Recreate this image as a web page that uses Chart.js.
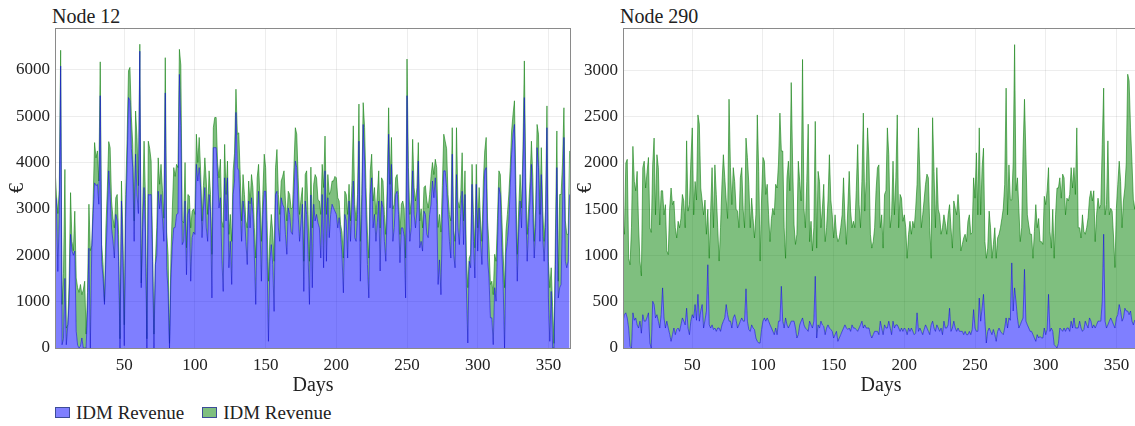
<!DOCTYPE html>
<html>
<head>
<meta charset="utf-8">
<title>IDM Revenue</title>
<script src="https://cdn.jsdelivr.net/npm/chart.js@4.4.1/dist/chart.umd.min.js"></script>
<style>
  html, body { margin: 0; padding: 0; background: #fff; overflow: hidden; }
  body { width: 1135px; height: 426px; position: relative; font-family: 'Liberation Serif', 'DejaVu Serif', 'Times New Roman', serif; color: #222; }
  canvas { position: absolute; top: 0; }
  #chart-node12 { left: 0; }
  #chart-node290 { left: 568px; }
  .panel-title { position: absolute; top: 6px; font-size: 20px; line-height: 20px; }
  .legend { position: absolute; top: 403px; left: 55px; font-size: 19px; line-height: 19px; display: flex; white-space: nowrap; }
  .legend .item { display: flex; align-items: center; margin-right: 18px; }
  .legend .swatch { width: 13px; height: 9px; border: 1px solid #3c4c98; margin-right: 6px; }
</style>
</head>
<body>
<div class="panel-title" style="left:52px">Node 12</div>
<div class="panel-title" style="left:620px">Node 290</div>
<canvas id="chart-node12" width="572" height="400"></canvas>
<canvas id="chart-node290" width="572" height="400"></canvas>
<div class="legend">
  <div class="item"><div class="swatch" style="background:#7f7fff"></div>IDM Revenue</div>
  <div class="item"><div class="swatch" style="background:#7fbf7f"></div>IDM Revenue</div>
</div>
<script>
// Node 12: daily IDM revenue (lower band) and cumulative top of the second band, €
const node12Base = [
  3300, 3200, 1650, 2800, 6080, 70, 200, 1500, 70, 470,
  1000, 2450, 2090, 2000, 2090, 360, 60, 0, 40, 216,
  0, 0, 0, 800, 2150, 0, 2160, 2900, 3560, 3500,
  3530, 3100, 5440, 1870, 1500, 940, 1940, 2800, 3820, 3310,
  2590, 2300, 1940, 2880, 2740, 1870, 0, 3170, 2000, 50,
  2800, 3900, 5400, 5330, 4300, 3890, 2300, 4180, 3310, 2900,
  6400, 1300, 2600, 3460, 2500, 0, 3310, 3300, 3310, 1870,
  0, 1800, 2000, 3380, 3000, 3310, 2800, 2300, 5500, 1730,
  1200, 0, 1510, 2200, 2590, 2600, 2880, 2900, 5900, 4800,
  2230, 2300, 3170, 1580, 2880, 3000, 1440, 2380, 2500, 2450,
  3960, 3600, 3890, 3460, 2380, 3000, 3460, 2590, 2300, 3310,
  2950, 1080, 4320, 4320, 4320, 3700, 3020, 3240, 1940, 1220,
  3670, 2740, 3670, 1730, 2300, 1370, 3310, 3600, 5080, 3890,
  3820, 3020, 2300, 3170, 2880, 2300, 1800, 3170, 2590, 3240,
  2880, 2000, 940, 2810, 3380, 2600, 1440, 2880, 3380, 3380,
  1870, 144, 1870, 2230, 1800, 790, 3310, 3380, 2590, 2300,
  3240, 3100, 3020, 2450, 2020, 3020, 2880, 2500, 2450, 3310,
  4030, 3890, 2880, 2300, 2700, 3100, 1220, 3170, 2880, 2020,
  940, 3300, 1300, 3100, 2740, 2880, 2700, 2590, 1940, 3310,
  1730, 3820, 1870, 3240, 2380, 2880, 3100, 3020, 2950, 2880,
  2590, 2810, 2450, 2000, 1190, 2880, 2740, 1940, 3170, 2300,
  3000, 3600, 2380, 2300, 2880, 4460, 1440, 2880, 4820, 4030,
  2880, 1800, 1080, 3310, 3670, 2590, 2880, 2300, 2700, 3170,
  1660, 3170, 3020, 2300, 1870, 3000, 4610, 3020, 3960, 2300,
  2600, 3310, 3380, 2880, 1840, 2590, 2590, 2400, 1080, 5440,
  3170, 2300, 2600, 3820, 2880, 2590, 2950, 4030, 2160, 2300,
  2090, 2950, 2880, 2450, 2380, 2880, 3100, 3600, 3240, 3670,
  3100, 1370, 1900, 1150, 2800, 3820, 3820, 3460, 2880, 2300,
  1940, 4180, 2020, 1730, 3740, 2590, 2230, 2900, 3380, 2230,
  3310, 1300, 108, 1870, 1730, 3530, 2300, 1510, 3530, 2090,
  3020, 2300, 1800, 3000, 3820, 3890, 1940, 1500, 650, 650,
  72, 1300, 1010, 2200, 3460, 3310, 2160, 1370, 0, 2020,
  2300, 2700, 3460, 4180, 4610, 4820, 2880, 1440, 2500, 3170,
  2590, 3890, 5400, 3020, 1870, 2600, 3170, 3960, 2880, 1940,
  2600, 4320, 3890, 2300, 3740, 2400, 1870, 2600, 4750, 1080,
  144, 1220, 0, 0, 1800, 3890, 1080, 1300, 1370, 3000,
  4540, 1870, 1730, 1870, 3310
];
const node12Top = [
  3900, 3300, 2900, 3400, 6420, 940, 1600, 3850, 430, 500,
  1400, 3350, 2300, 2100, 2950, 1510, 1300, 1200, 1370, 1150,
  1250, 1440, 300, 1200, 3100, 2100, 2200, 3200, 4430, 4100,
  4250, 3600, 6170, 2230, 1800, 1000, 2590, 3400, 4450, 4320,
  3170, 2800, 2590, 3240, 3310, 2450, 200, 3600, 2500, 500,
  3310, 4500, 5980, 6050, 5000, 4390, 2740, 5110, 4540, 3500,
  6550, 1400, 3000, 4460, 3200, 200, 4460, 4300, 4030, 2200,
  300, 1870, 2600, 4100, 3530, 3960, 3400, 2800, 6260, 2500,
  2000, 100, 2000, 3000, 3890, 3700, 3960, 3890, 6440, 6100,
  2740, 2700, 4000, 2160, 3310, 3280, 2590, 2950, 3000, 2880,
  4610, 4000, 4540, 3820, 2740, 3500, 4100, 3600, 2880, 3820,
  3310, 2020, 4750, 4970, 4970, 4000, 3670, 4070, 2740, 2600,
  4390, 3310, 4030, 2450, 2880, 2300, 3820, 4200, 5580, 4610,
  4640, 3740, 2740, 3740, 3310, 2740, 2590, 3600, 3110, 3740,
  3460, 2600, 1940, 3670, 3960, 3200, 2300, 3310, 4180, 3890,
  2740, 1440, 2380, 2880, 2500, 1870, 3890, 4280, 3310, 2880,
  3600, 3700, 3820, 3170, 2740, 3380, 3310, 3000, 3020, 3890,
  4750, 4610, 3670, 2880, 3200, 3460, 1870, 3740, 3820, 2880,
  1870, 3900, 2590, 3530, 3740, 3670, 3200, 3170, 2880, 3960,
  3460, 4570, 2880, 3740, 3310, 3380, 3600, 3600, 3700, 3670,
  3240, 3170, 2660, 2500, 1940, 3380, 3310, 2880, 3530, 2740,
  3500, 4790, 3100, 2740, 3310, 5260, 2300, 3310, 5290, 4750,
  3460, 2500, 1940, 3820, 4180, 3170, 3460, 2880, 3300, 3820,
  2590, 3670, 3600, 2880, 2450, 3500, 5180, 3530, 4540, 3000,
  3100, 3670, 3740, 3310, 2450, 3100, 3170, 3000, 1940, 6230,
  3890, 2880, 3200, 4500, 3460, 3170, 3460, 4430, 2740, 3000,
  2590, 3460, 3500, 3170, 3020, 3310, 3700, 4000, 3740, 4070,
  3890, 2600, 2880, 2500, 3500, 4610, 4460, 4300, 3310, 2880,
  2740, 4750, 2530, 2300, 4750, 3170, 3020, 3300, 4210, 2740,
  3820, 2000, 1300, 1940, 2020, 3960, 2880, 2160, 3960, 2590,
  3460, 2740, 2300, 3600, 4250, 4540, 2740, 2200, 1370, 1440,
  1150, 2020, 1870, 2800, 3820, 3740, 2880, 2020, 1300, 2520,
  2880, 3300, 3890, 4680, 5040, 5330, 3530, 2020, 3000, 3740,
  3020, 4250, 6190, 3670, 2450, 3000, 3600, 4460, 3670, 2300,
  3000, 4820, 4610, 2880, 4320, 3000, 2300, 3000, 5220, 1870,
  1300, 1730, 900, 100, 2500, 4680, 1440, 3310, 3310, 4000,
  5180, 2740, 2450, 2450, 4250
];

// Node 290: same two bands
const node290Base = [
  290, 360, 380, 325, 216, 18, 0, 380, 300, 325,
  250, 216, 290, 160, 360, 290, 290, 330, 380, 54,
  0, 505, 470, 325, 360, 290, 216, 360, 650, 325,
  216, 290, 216, 150, 72, 144, 216, 144, 200, 216,
  180, 250, 325, 290, 250, 430, 216, 144, 290, 360,
  325, 470, 300, 580, 290, 400, 470, 216, 300, 400,
  900, 250, 216, 250, 200, 216, 180, 216, 216, 180,
  250, 290, 325, 470, 360, 290, 290, 216, 325, 360,
  300, 216, 250, 290, 325, 290, 290, 640, 290, 200,
  180, 250, 216, 200, 108, 72, 54, 54, 200, 290,
  325, 290, 325, 290, 250, 216, 180, 144, 216, 144,
  290, 290, 667, 290, 216, 325, 250, 216, 250, 290,
  290, 290, 216, 108, 144, 250, 290, 325, 250, 216,
  200, 180, 290, 250, 216, 290, 775, 108, 250, 216,
  290, 250, 235, 144, 216, 250, 216, 200, 180, 108,
  144, 180, 72, 108, 144, 180, 216, 250, 216, 200,
  216, 180, 250, 216, 216, 200, 180, 216, 250, 290,
  216, 250, 216, 216, 216, 144, 108, 144, 180, 180,
  180, 144, 290, 216, 144, 250, 216, 216, 290, 216,
  144, 290, 216, 250, 250, 216, 180, 216, 180, 216,
  200, 144, 216, 180, 216, 180, 144, 160, 380, 180,
  216, 180, 144, 200, 250, 216, 180, 144, 250, 290,
  216, 180, 250, 216, 180, 216, 144, 290, 216, 216,
  250, 430, 180, 216, 290, 216, 180, 216, 180, 180,
  180, 144, 180, 144, 144, 180, 144, 200, 415, 216,
  180, 180, 540, 290, 430, 580, 290, 54, 180, 216,
  180, 144, 200, 144, 72, 180, 216, 180, 160, 144,
  216, 325, 216, 325, 300, 920, 400, 650, 500, 325,
  216, 250, 290, 325, 850, 290, 250, 216, 180, 180,
  144, 108, 72, 144, 108, 125, 108, 108, 216, 144,
  200, 580, 180, 216, 180, 36, 18, 0, 50, 216,
  200, 180, 216, 180, 216, 216, 180, 290, 216, 325,
  216, 216, 216, 290, 216, 180, 200, 290, 250, 216,
  325, 290, 216, 250, 216, 250, 290, 290, 290, 500,
  1230, 290, 216, 250, 290, 325, 290, 250, 216, 325,
  360, 470, 400, 290, 325, 430, 400, 400, 360, 400,
  290, 250, 300, 280, 260
];
const node290Top = [
  1370, 1230, 2000, 2040, 970, 900, 1300, 2180, 1800, 1700,
  1910, 1330, 940, 780, 1950, 2020, 1730, 1900, 2060, 1300,
  1250, 1980, 2270, 1440, 2090, 1950, 1330, 1700, 1700, 1440,
  1550, 1050, 1010, 1500, 1730, 1550, 1590, 1300, 1190, 1370,
  1300, 1400, 1660, 1590, 1300, 2240, 1480, 1550, 2020, 2380,
  1440, 1800, 1600, 2520, 2420, 1730, 1590, 1440, 1600, 1230,
  1500, 970, 1480, 1950, 1300, 1980, 1660, 1300, 940, 1300,
  1770, 2090, 1840, 1600, 1400, 2690, 1950, 1550, 1950, 1800,
  1500, 1480, 1300, 1840, 1950, 1500, 1300, 2270, 2060, 1770,
  1300, 1620, 1400, 1190, 1440, 2520, 1910, 940, 1600, 2060,
  2020, 1660, 1770, 1440, 1150, 1400, 1510, 1440, 1770, 1730,
  2000, 2540, 2130, 2130, 1300, 970, 1840, 2020, 1700, 2870,
  1980, 1330, 1120, 1230, 2020, 1800, 1590, 3120, 1510, 1300,
  1800, 2420, 1150, 1370, 1050, 1300, 2450, 1080, 1910, 1800,
  1300, 1500, 1770, 1150, 1300, 1590, 2090, 1600, 1440, 1190,
  1440, 1230, 1150, 1190, 1300, 1440, 1840, 1400, 1120, 1500,
  1910, 1480, 1300, 1370, 1300, 1700, 2200, 1550, 1300, 1800,
  2540, 1480, 1800, 2380, 2020, 1230, 1080, 1150, 1300, 1700,
  1950, 1980, 1300, 1440, 1080, 1660, 1700, 2380, 2090, 1300,
  1440, 2020, 1440, 1840, 2520, 1300, 1660, 1620, 1370, 1440,
  1300, 970, 1230, 1370, 1230, 1370, 1300, 1500, 1770, 2380,
  1880, 1300, 1440, 1600, 1770, 1880, 1840, 1300, 970, 2490,
  1910, 1300, 1950, 1500, 1440, 1230, 1300, 1440, 1350, 1230,
  1440, 1550, 1300, 1080, 1590, 1510, 1440, 1660, 1440, 1050,
  1120, 1190, 1230, 1150, 1370, 1440, 1230, 1250, 1840, 1620,
  2110, 1440, 2380, 1440, 1950, 2160, 1150, 970, 1080, 1480,
  1300, 970, 1120, 1300, 970, 1190, 1230, 1300, 1400, 1510,
  1770, 2810, 1440, 1980, 1600, 1600, 2000, 3280, 1700, 1840,
  1510, 1150, 1300, 2130, 2690, 2090, 1440, 1330, 1230, 1230,
  970, 1260, 1550, 1300, 1400, 1150, 1150, 1120, 1640, 1550,
  1700, 1950, 1260, 1080, 1500, 970, 1440, 1730, 1730, 1840,
  1620, 1880, 1840, 1440, 1620, 1590, 1660, 1950, 1730, 1950,
  1660, 2380, 1300, 1300, 1190, 1440, 1260, 1230, 1300, 1410,
  1620, 1700, 1590, 1700, 1150, 1440, 1620, 1510, 1550, 2200,
  2810, 1440, 1550, 2240, 1440, 1510, 1480, 1200, 870, 1510,
  1770, 2020, 1800, 1300, 1590, 1730, 2000, 2960, 2890, 2380,
  2020, 1600, 1500, 1700, 1400
];

// Tick values
const dayTicks = [50, 100, 150, 200, 250, 300, 350];
const node12Ticks = [0, 1000, 2000, 3000, 4000, 5000, 6000];
const node290Ticks = [0, 500, 1000, 1500, 2000, 2500, 3000];

// Day numbers for the x axis
const days = node12Base.map((_, i) => i + 1);

Chart.defaults.font.family = "'Liberation Serif', 'DejaVu Serif', 'Times New Roman', serif";
Chart.defaults.color = '#222';

// Box round the plot area
const framePlugin = {
  id: 'frame',
  afterDatasetsDraw(chart) {
    const { ctx, chartArea: a } = chart;
    ctx.save();
    ctx.strokeStyle = '#8a8a8a';
    ctx.lineWidth = 1;
    ctx.strokeRect(a.left + 0.5, a.top + 0.5, a.right - a.left - 1, a.bottom - a.top);
    ctx.restore();
  }
};

function toPoints(values) {
  return values.map((v, i) => ({ x: days[i], y: v }));
}

function useTicks(values) {
  return scale => { scale.ticks = values.map(v => ({ value: v })); };
}

function makePanel(canvasId, base, top, yMax, yTicks) {
  const ctx = document.getElementById(canvasId).getContext('2d');
  return new Chart(ctx, {
    type: 'line',
    data: {
      datasets: [
        {
          label: 'IDM Revenue',
          data: toPoints(base),
          borderColor: 'rgba(20, 20, 210, 0.6)',
          backgroundColor: 'rgba(0, 0, 255, 0.5)',
          borderWidth: 1,
          pointRadius: 0,
          tension: 0,
          fill: 'origin'
        },
        {
          label: 'IDM Revenue',
          data: toPoints(top),
          borderColor: 'rgba(20, 130, 20, 0.6)',
          backgroundColor: 'rgba(0, 128, 0, 0.5)',
          borderWidth: 1,
          pointRadius: 0,
          tension: 0,
          fill: '-1'
        }
      ]
    },
    options: {
      responsive: false,
      animation: false,
      layout: { padding: { top: 28, left: 0, right: 1, bottom: 0 } },
      scales: {
        x: {
          type: 'linear',
          min: 1,
          max: 366,
          grid: { color: 'rgba(0, 0, 0, 0.07)', drawTicks: false },
          border: { display: false },
          ticks: { padding: 7, font: { size: 17 }, maxRotation: 0, autoSkip: false },
          afterBuildTicks: useTicks(dayTicks),
          afterFit: scale => { scale.height = 52; },
          title: { display: true, text: 'Days', font: { size: 20 }, padding: { top: 0, bottom: 2 } }
        },
        y: {
          min: 0,
          max: yMax,
          grid: { color: 'rgba(0, 0, 0, 0.07)', drawTicks: false },
          border: { display: false },
          ticks: { padding: 5, font: { size: 17 }, autoSkip: false, callback: v => String(v) },
          afterBuildTicks: useTicks(yTicks),
          afterFit: scale => { scale.width = 55; },
          title: { display: true, text: '€', font: { size: 20 }, padding: { top: 6, bottom: 0 } }
        }
      },
      plugins: {
        legend: { display: false },
        tooltip: { enabled: false }
      }
    },
    plugins: [framePlugin]
  });
}

makePanel('chart-node12', node12Base, node12Top, 6900, node12Ticks);
makePanel('chart-node290', node290Base, node290Top, 3460, node290Ticks);
</script>
</body>
</html>
